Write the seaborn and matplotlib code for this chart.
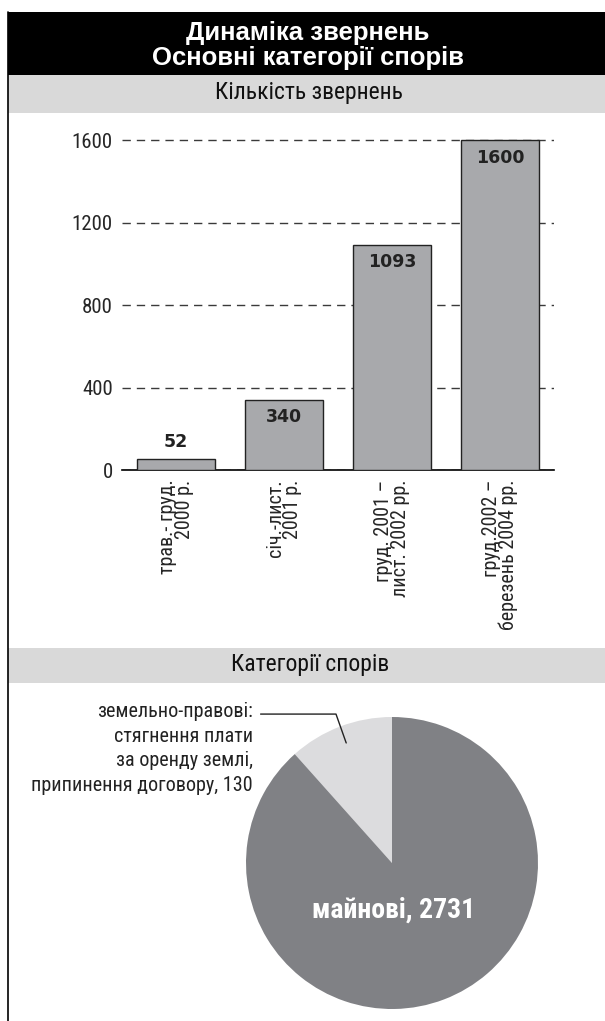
import matplotlib
matplotlib.use("Agg")
import matplotlib.pyplot as plt
from matplotlib import font_manager as fm
from matplotlib.patches import Rectangle
from matplotlib.lines import Line2D
import numpy as np
import seaborn as sns

# Дані
periods = ["трав.- груд.\n2000 р.", "січ.-лист.\n2001 р.",
           "груд. 2001 –\nлист. 2002 рр.", "груд.2002 –\nберезень 2004 рр."]
appeals = [52, 340, 1093, 1600]
y_ticks = [0, 400, 800, 1200, 1600]

categories = ["земельно-правові:\nстягнення плати\nза оренду землі,\nприпинення договору", "майнові"]
category_counts = [130, 2731]
# частки секторів, як вони намальовані на картинці (%)
slice_share = [11.6, 88.4]

sns.set_style("white")

# шукаємо вузький шрифт, якщо він є
names = {f.name for f in fm.fontManager.ttflist}
narrow_font = None
for cand in ["Liberation Sans Narrow", "DejaVu Sans Condensed", "Roboto Condensed",
             "Open Sans Condensed"]:
    if cand in names:
        narrow_font = cand
        break
stretch = "normal"
if narrow_font is None:
    for f in fm.fontManager.ttflist:
        if ("Condensed" in f.fname or "Narrow" in f.fname) and "Bold" not in f.fname \
                and "Oblique" not in f.fname and "Italic" not in f.fname:
            narrow_font = f.name
            stretch = f.stretch
            break
if narrow_font is None:
    narrow_font = "Roboto"
    k = 0.88
else:
    k = 1.0

plt.rcParams["font.family"] = [narrow_font, "DejaVu Sans"]
plt.rcParams["font.stretch"] = stretch

W, H = 605, 1021
fig = plt.figure(figsize=(W / 100, H / 100), dpi=100)


def fx(px):
    return px / W


def fy(py):
    return 1 - py / H


# Шапка та смуги
fig.patches.append(Rectangle((fx(8), fy(75)), 1, (75 - 12) / H, transform=fig.transFigure,
                             facecolor="black", edgecolor="none", zorder=0))
fig.patches.append(Rectangle((fx(8), fy(113)), 1, (113 - 75) / H, transform=fig.transFigure,
                             facecolor="#d9d9d9", edgecolor="none", zorder=0))
fig.patches.append(Rectangle((fx(8), fy(683)), 1, (683 - 648) / H, transform=fig.transFigure,
                             facecolor="#d9d9d9", edgecolor="none", zorder=0))
fig.add_artist(Line2D([fx(8), fx(8)], [fy(12), 0], transform=fig.transFigure,
                      color="black", linewidth=1.2))

fig.text(fx(308), fy(33), "Динаміка звернень", color="white", ha="center", va="center",
         fontsize=18.5, fontweight="bold", family=["Liberation Sans", "DejaVu Sans"])
fig.text(fx(308), fy(58), "Основні категорії спорів", color="white", ha="center", va="center",
         fontsize=18.5, fontweight="bold", family=["Liberation Sans", "DejaVu Sans"])
fig.text(fx(309), fy(93), "Кількість звернень", color="#111111", ha="center", va="center",
         fontsize=17 * k)
fig.text(fx(310), fy(665), "Категорії спорів", color="#111111", ha="center", va="center",
         fontsize=17 * k)

# Стовпчикова діаграма
ax = fig.add_axes([fx(122), fy(470), (554 - 122) / W, (470 - 130) / H])
sns.barplot(x=list(range(len(appeals))), y=appeals, color="#a8a9ac", saturation=1,
            width=0.72, edgecolor="#222222", linewidth=1.0, ax=ax, zorder=3)
ax.set_xlim(-0.5, len(appeals) - 0.5)
ax.set_ylim(0, 1650)
ax.set_yticks(y_ticks)
ax.set_yticklabels([str(v) for v in y_ticks], fontsize=15 * k)
ax.set_xticks(range(len(periods)))
ax.set_xticklabels(periods, rotation=90, fontsize=14.5 * k, linespacing=0.9)
for lab in ax.get_xticklabels():
    lab.set_multialignment("right")
ax.set_xticks(np.arange(-0.5, len(appeals), 1.0), minor=True)
ax.tick_params(axis="x", which="major", length=0, pad=7)
ax.tick_params(axis="x", which="minor", direction="in", length=7, width=1.2, color="black")
ax.tick_params(axis="y", length=0, pad=6.5)
ax.set_xlabel("")
ax.set_ylabel("")
for s in ["top", "right", "left"]:
    ax.spines[s].set_visible(False)
ax.spines["bottom"].set_linewidth(1.2)
ax.spines["bottom"].set_color("black")
ax.yaxis.grid(True, linestyle=(0, (6, 4.3)), color="#3a3a3a", linewidth=1.0)
ax.set_axisbelow(True)

for i, v in enumerate(appeals):
    if v < 200:
        ax.annotate(str(v), (i, v), xytext=(0, 6), textcoords="offset points",
                    ha="center", va="bottom", fontsize=12.5, fontweight="bold",
                    color="#222222", family="DejaVu Sans")
    else:
        ax.annotate(str(v), (i, v), xytext=(0, -6), textcoords="offset points",
                    ha="center", va="top", fontsize=12.5, fontweight="bold",
                    color="#222222", family="DejaVu Sans")

# Кругова діаграма
R = 146
pax = fig.add_axes([fx(392 - R), fy(863 + R), 2 * R / W, 2 * R / H])
wedges, _ = pax.pie(slice_share, colors=["#dcdcde", "#808185"], startangle=90,
                    counterclock=True, radius=1.0,
                    wedgeprops=dict(edgecolor="none", linewidth=0))
pax.set_xlim(-1, 1)
pax.set_ylim(-1, 1)
pax.set_aspect("equal")
pax.axis("off")

pax.text(0.01, -0.32, f"{categories[1]}, {category_counts[1]}", color="white",
         ha="center", va="center", fontsize=20 * k, fontweight="bold")

# Підпис малого сектора з виноскою
w = wedges[0]
mid = np.deg2rad((w.theta1 + w.theta2) / 2)
ax_x, ax_y = 0.88 * np.cos(mid), 0.88 * np.sin(mid)
pax.plot([-0.9, ax_x - 0.07, ax_x], [1.02, 1.02, ax_y], color="#222222",
         linewidth=1.0, clip_on=False)
fig.text(fx(253), fy(702), f"{categories[0]}, {category_counts[0]}", ha="right", va="top",
         fontsize=14.5 * k, color="#222222", linespacing=1.38)

fig.savefig("out.png", dpi=100, facecolor="white")
